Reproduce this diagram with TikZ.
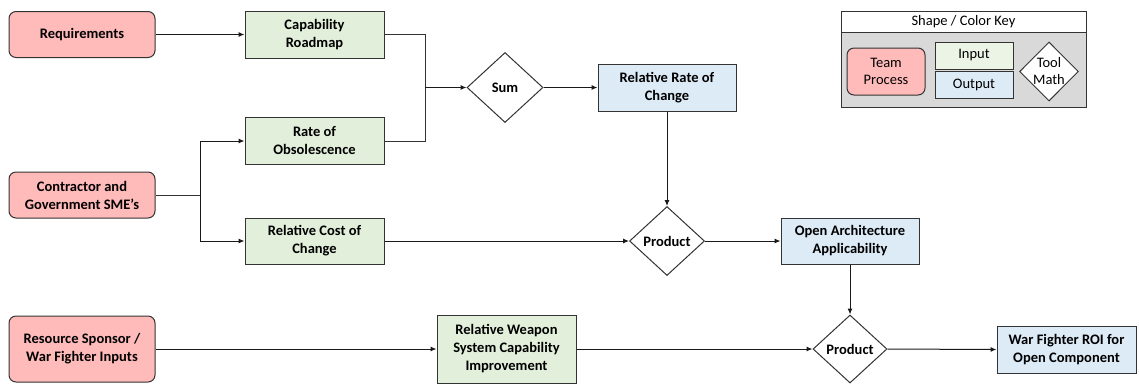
\documentclass[tikz,border=0pt]{standalone}
\usepackage{fontspec}
\setmainfont{Carlito}
\usetikzlibrary{shapes.geometric,arrows.meta}
\definecolor{pinkc}{HTML}{FFBABA}
\definecolor{greenc}{HTML}{E2EFDA}
\definecolor{bluec}{HTML}{DDEBF7}
\definecolor{keygray}{HTML}{D9D9D9}
\definecolor{edgec}{HTML}{333333}
\begin{document}
\begin{tikzpicture}[x=1pt,y=-1pt,
  base/.style={draw=edgec, line width=1pt, align=center, inner sep=0pt,
    font=\bfseries\fontsize{14.5}{18}\selectfont, text=black},
  proc/.style={base, rectangle, rounded corners=7pt, fill=pinkc, minimum width=146pt, minimum height=46pt},
  inp/.style={base, rectangle, fill=greenc, minimum width=139pt, minimum height=47pt},
  outp/.style={base, rectangle, fill=bluec, minimum width=138pt, minimum height=47pt},
  mathd/.style={base, diamond, fill=white, minimum width=75pt, minimum height=69pt},
  keyfont/.style={font=\fontsize{14.5}{17}\selectfont, text=black},
  keybox/.style={draw=edgec, line width=1pt, inner sep=0pt, align=center, keyfont},
  arr/.style={-{Latex[length=6pt,width=5pt]}, line width=1pt, draw=black!90},
  ln/.style={line width=1pt, draw=black!80}]
\useasboundingbox (0,0) rectangle (1139,384);

% main nodes
\node[proc] (req) at (82,34.5) {Requirements};
\node[proc] (con) at (82,195) {Contractor and\\Government SME’s};
\node[proc, minimum height=66pt] (res) at (82,349) {Resource Sponsor /\\War Fighter Inputs};

\node[inp] (cap) at (314.5,34.5) {Capability\\Roadmap};
\node[inp] (obs) at (314.5,141) {Rate of\\Obsolescence};
\node[inp, minimum height=46pt] (rcc) at (314.5,241) {Relative Cost of\\Change};
\node[inp, minimum height=68pt] (rws) at (506.5,349) {Relative Weapon\\System Capability\\Improvement};

\node[mathd, minimum width=76pt, minimum height=70pt] (sum) at (505,87.5) {Sum};
\node[mathd] (p1) at (667,241) {Product};
\node[mathd, minimum width=74pt, minimum height=68pt] (p2) at (850,349) {Product};

\node[outp] (rrc) at (667,87.5) {Relative Rate of\\Change};
\node[outp, minimum height=46pt] (oaa) at (850,241) {Open Architecture\\Applicability};
\node[outp, minimum width=139pt] (roi) at (1066.5,349.5) {War Fighter ROI for\\Open Component};

% connectors
\coordinate (j1) at (425,87.5);
\coordinate (j2) at (200,195);
\draw[arr] (req.east) -- (cap.west);
\draw[ln] (cap.east) -| (j1);
\draw[ln] (obs.east) -| (j1);
\draw[arr] (j1) -- (sum.west);
\draw[arr] (sum.east) -- (rrc.west);
\draw[arr] (rrc.south) -- (p1.north);
\draw[ln] (con.east) -- (j2);
\draw[arr] (j2) |- (obs.west);
\draw[arr] (j2) |- (rcc.west);
\draw[arr] (rcc.east) -- (p1.west);
\draw[arr] (p1.east) -- (oaa.west);
\draw[arr] (oaa.south) -- (p2.north);
\draw[arr] (res.east) -- (rws.west);
\draw[arr] (rws.east) -- (p2.west);
\draw[arr] (p2.east) -- (roi.west);

% key
\node[keybox, fill=keygray, minimum width=245pt, minimum height=96pt] (keybody) at (963.5,59) {};
\node[keybox, fill=white, minimum width=245pt, minimum height=21pt] (keyhead) at (963.5,21.5) {Shape / Color Key};
\node[keybox, fill=pinkc, rounded corners=7pt, minimum width=78pt, minimum height=47pt] (kteam) at (886,71.5) {Team\\Process};
\node[keybox, fill=greenc!70!white, minimum width=78pt, minimum height=27pt] (kin) at (974,55.5) {Input};
\node[keybox, fill=bluec, minimum width=78pt, minimum height=27pt] (kout) at (974,84.5) {Output};
\node[keybox, fill=white, diamond, minimum width=56pt, minimum height=59pt] (kmath) at (1049,71.5) {Tool\\Math};
\end{tikzpicture}
\end{document}
